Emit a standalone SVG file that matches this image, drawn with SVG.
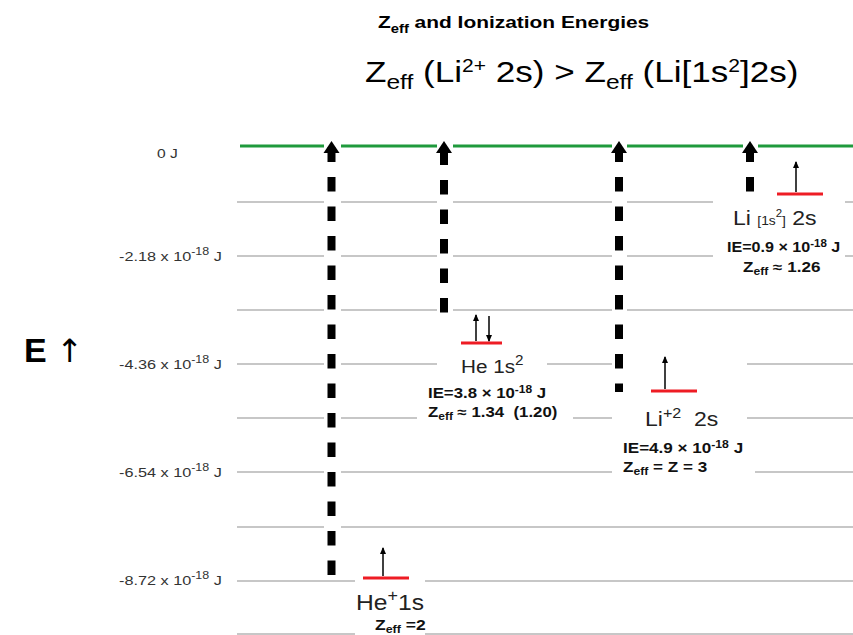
<svg xmlns="http://www.w3.org/2000/svg" width="853" height="635" viewBox="0 0 853 635">
<defs>
<style>
.grid{stroke:#b4b4b4;stroke-width:1.5}
.zero{stroke:#1f9a3c;stroke-width:3}
.tick{font-family:"Liberation Sans",Arial,sans-serif;font-size:13px;fill:#333}
.lvl{stroke:#ee1c24;stroke-width:3}
.el{stroke:#000;stroke-width:1.5;marker-end:url(#ah)}
.ie{stroke:#000;stroke-width:8;stroke-dasharray:14.5 15}
.head{fill:#000}
.bg{fill:#fff}
.lbl{font-family:"Liberation Sans",Arial,sans-serif;fill:#222}
.b{font-family:"Liberation Sans",Arial,sans-serif;font-weight:bold;font-size:14px;fill:#111}
.t{font-family:"Liberation Sans",Arial,sans-serif;fill:#000}
</style>
<marker id="ah" markerUnits="userSpaceOnUse" markerWidth="8" markerHeight="6" refX="6" refY="3" orient="auto">
<path d="M0,0 L7,3 L0,6 z" fill="#000"/>
</marker>
</defs>
<rect width="853" height="635" fill="#fff"/>

<g id="title">
<text class="t" font-weight="bold" font-size="17" transform="translate(378,28) scale(1.23,1)">Z<tspan font-size="12" dy="5">eff</tspan><tspan dy="-5"> and Ionization Energies</tspan></text>
<text class="t" font-size="30" transform="translate(365,82) scale(1.17,1)">Z<tspan font-size="21" dy="7">eff</tspan><tspan dy="-7"> (Li</tspan><tspan font-size="18" dy="-10">2+</tspan><tspan dy="10"> 2s) &gt; Z</tspan><tspan font-size="21" dy="7">eff</tspan><tspan dy="-7"> (Li[1s</tspan><tspan font-size="18" dy="-10">2</tspan><tspan dy="10">]2s)</tspan></text>
</g>

<g id="axis">
<text class="t" font-weight="bold" font-size="34" x="24" y="362">E <tspan font-weight="normal" font-family="'DejaVu Sans',sans-serif" font-size="32">↑</tspan></text>
<text class="tick" transform="translate(157,158) scale(1.2,1)">0 J</text>
<text class="tick" transform="translate(119,261) scale(1.25,1)">-2.18 x 10<tspan font-size="10" dy="-6">-18</tspan><tspan dy="6"> J</tspan></text>
<text class="tick" transform="translate(119,369) scale(1.25,1)">-4.36 x 10<tspan font-size="10" dy="-6">-18</tspan><tspan dy="6"> J</tspan></text>
<text class="tick" transform="translate(119,477) scale(1.25,1)">-6.54 x 10<tspan font-size="10" dy="-6">-18</tspan><tspan dy="6"> J</tspan></text>
<text class="tick" transform="translate(119,585) scale(1.25,1)">-8.72 x 10<tspan font-size="10" dy="-6">-18</tspan><tspan dy="6"> J</tspan></text>
</g>

<g id="levels">
<line class="grid" x1="237" y1="202" x2="853" y2="202"/>
<line class="grid" x1="237" y1="256" x2="853" y2="256"/>
<line class="grid" x1="237" y1="310" x2="853" y2="310"/>
<line class="grid" x1="237" y1="364" x2="853" y2="364"/>
<line class="grid" x1="237" y1="418" x2="853" y2="418"/>
<line class="grid" x1="237" y1="472" x2="853" y2="472"/>
<line class="grid" x1="237" y1="527" x2="853" y2="527"/>
<line class="grid" x1="237" y1="581" x2="853" y2="581"/>
<line class="grid" x1="237" y1="634" x2="853" y2="634"/>
<line class="zero" x1="240" y1="146" x2="853" y2="146"/>
</g>

<g id="he-plus-1s">
<rect class="bg" x="355" y="546" width="70" height="89"/>
<line class="lvl" x1="363" y1="578" x2="409" y2="578"/>
<line class="el" x1="383" y1="576" x2="383" y2="548"/>
<text class="lbl" font-size="22" transform="translate(356,610) scale(1.12,1)">He<tspan font-size="16" dy="-9">+</tspan><tspan dy="9">1s</tspan></text>
<text class="b" font-size="13" transform="translate(375,630) scale(1.25,1)">Z<tspan font-size="10" dy="3">eff</tspan><tspan dy="-3"> =2</tspan></text>
</g>

<g id="he-1s2">
<rect class="bg" x="437" y="313" width="110" height="72"/>
<rect class="bg" x="417" y="385" width="156" height="40"/>
<line class="lvl" x1="461" y1="343" x2="502" y2="343"/>
<line class="el" x1="476" y1="341" x2="476" y2="315"/>
<line class="el" x1="489" y1="316" x2="489" y2="341"/>
<text class="lbl" font-size="19" fill="#333" transform="translate(461,373) scale(1.09,1)">He 1s<tspan font-size="14" dy="-8">2</tspan></text>
<text class="b" transform="translate(428,398) scale(1.2,1)">IE=3.8 × 10<tspan font-size="10" dy="-5">-18</tspan><tspan dy="5"> J</tspan></text>
<text class="b" xml:space="preserve" transform="translate(428,417) scale(1.2,1)">Z<tspan font-size="10" dy="3">eff</tspan><tspan dy="-3"> ≈ 1.34  (1.20)</tspan></text>
</g>

<g id="li-2plus-2s">
<rect class="bg" x="612" y="340" width="135" height="92"/>
<rect class="bg" x="612" y="432" width="143" height="45"/>
<line class="lvl" x1="651" y1="391" x2="697" y2="391"/>
<line class="el" x1="665" y1="389" x2="665" y2="357"/>
<text class="lbl" font-size="20" xml:space="preserve" transform="translate(645,426) scale(1.15,1)">Li<tspan font-size="14" dy="-8">+2</tspan><tspan dy="8">  2s</tspan></text>
<text class="b" transform="translate(623,453) scale(1.22,1)">IE=4.9 × 10<tspan font-size="10" dy="-5">-18</tspan><tspan dy="5"> J</tspan></text>
<text class="b" transform="translate(623,472) scale(1.22,1)">Z<tspan font-size="10" dy="3">eff</tspan><tspan dy="-3"> = Z = 3</tspan></text>
</g>

<g id="li-1s2-2s">
<rect class="bg" x="713" y="160" width="132" height="128"/>
<line class="lvl" x1="777" y1="194" x2="823" y2="194"/>
<line class="el" x1="796" y1="192" x2="796" y2="162"/>
<text class="lbl" font-size="20" transform="translate(733,225) scale(1.15,1)">Li <tspan font-size="12">[1s</tspan><tspan font-size="10" dy="-8">2</tspan><tspan font-size="12" dy="8">]</tspan> 2s</text>
<text class="b" transform="translate(727,252) scale(1.15,1)">IE=0.9 × 10<tspan font-size="10" dy="-5">-18</tspan><tspan dy="5"> J</tspan></text>
<text class="b" transform="translate(743,272) scale(1.22,1)">Z<tspan font-size="10" dy="3">eff</tspan><tspan dy="-3"> ≈ 1.26</tspan></text>
</g>

<g id="connectors">
<rect class="bg" x="324" y="140" width="17" height="438"/>
<line class="ie" x1="331.5" y1="147.5" x2="331.5" y2="578"/>
<polygon class="head" points="323.5,153 339.5,153 331.5,141"/>
<rect class="bg" x="437" y="140" width="16" height="173"/>
<line class="ie" x1="444" y1="150.5" x2="444" y2="313"/>
<polygon class="head" points="436,153 452,153 444,141"/>
<rect class="bg" x="612" y="140" width="15" height="253"/>
<line class="ie" x1="619" y1="147.5" x2="619" y2="392"/>
<polygon class="head" points="611,153 627,153 619,141"/>
<rect class="bg" x="743" y="140" width="15" height="53"/>
<line class="ie" x1="750" y1="147.5" x2="750" y2="192"/>
<polygon class="head" points="742,153 758,153 750,141"/>
</g>
</svg>
